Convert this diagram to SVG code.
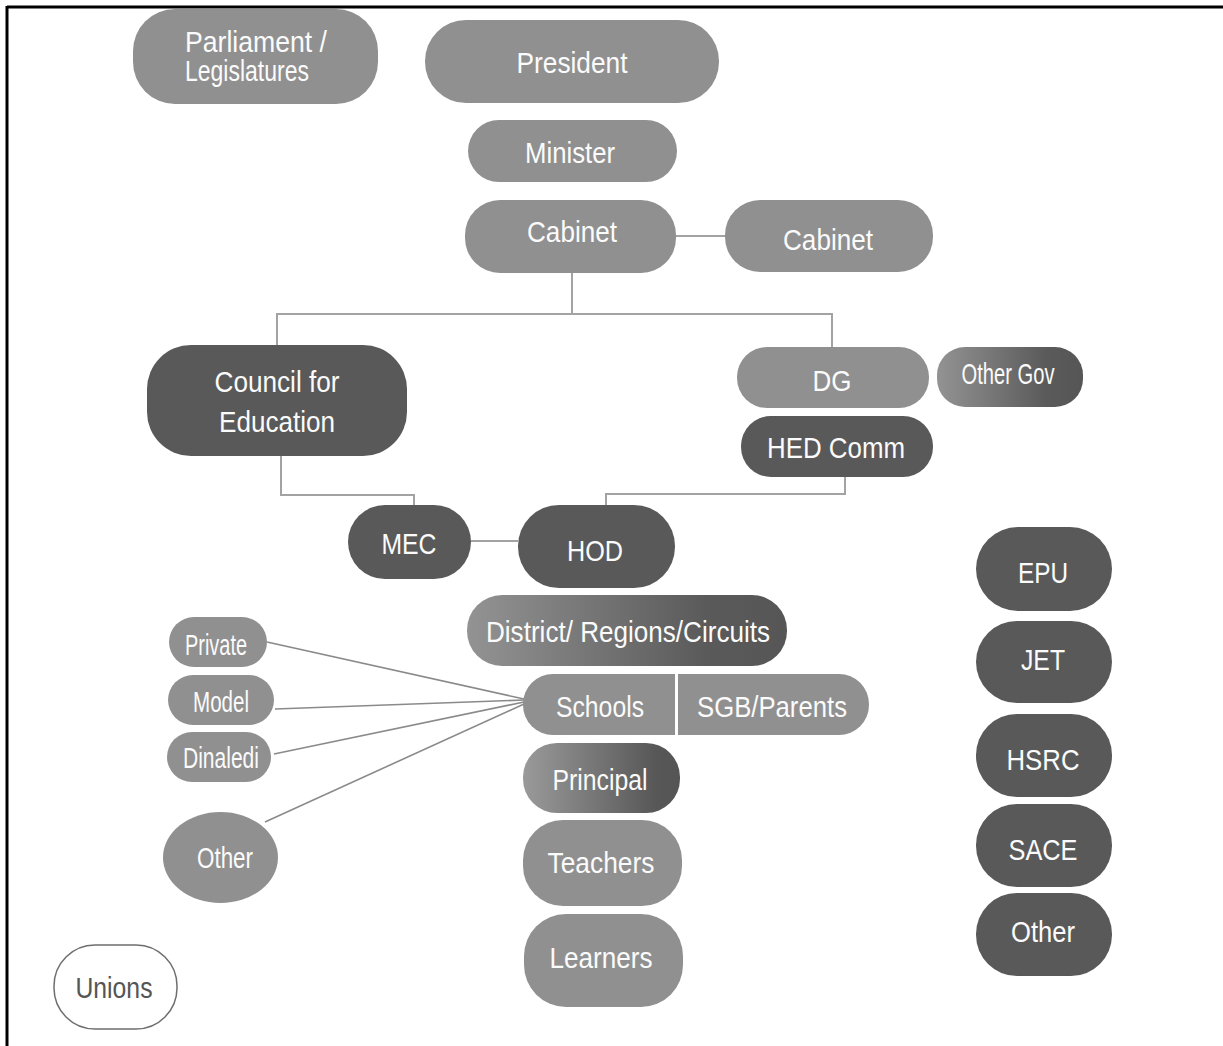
<svg xmlns="http://www.w3.org/2000/svg" width="1223" height="1046" viewBox="0 0 1223 1046">
<defs>
<linearGradient id="gDark" x1="0" y1="0" x2="1" y2="0">
<stop offset="0" stop-color="#939393"/>
<stop offset="0.75" stop-color="#5a5a5a"/>
<stop offset="1" stop-color="#565656"/>
</linearGradient>
<linearGradient id="gPrin" x1="0" y1="0" x2="1" y2="0">
<stop offset="0" stop-color="#9a9a9a"/>
<stop offset="0.85" stop-color="#575757"/>
<stop offset="1" stop-color="#555555"/>
</linearGradient>
<style>
.l{fill:#909090}
.d{fill:#595959}
.g{fill:url(#gDark)}
.t{fill:#fbfbfb;font-family:"Liberation Sans",Arial,sans-serif;font-size:30px;text-anchor:middle}
.tl{fill:#fbfbfb;font-family:"Liberation Sans",Arial,sans-serif;font-size:29px}
.c{stroke:#a3a3a3;stroke-width:2;fill:none}
.s{stroke:#8a8a8a;stroke-width:1.6;fill:none}
</style>
</defs>
<rect width="1223" height="1046" fill="#ffffff"/>
<g id="frame">
<line x1="7" y1="7" x2="1223" y2="7" stroke="#000" stroke-width="3"/>
<line x1="7" y1="6" x2="7" y2="1046" stroke="#000" stroke-width="3"/>
</g>
<g id="connectors">
<line class="c" x1="676" y1="236" x2="725" y2="236"/>
<polyline class="c" points="572,273 572,314"/>
<polyline class="c" points="277,347 277,314 832,314 832,348"/>
<polyline class="c" points="281,456 281,495 414,495 414,505"/>
<polyline class="c" points="845,477 845,494 606,494 606,505"/>
<line class="c" x1="471" y1="541" x2="518" y2="541"/>
<line class="s" x1="267" y1="642" x2="524" y2="699"/>
<line class="s" x1="275" y1="709" x2="524" y2="700"/>
<line class="s" x1="274" y1="754" x2="524" y2="702"/>
<line class="s" x1="265" y1="822" x2="524" y2="704"/>
</g>
<g id="parliament">
<rect class="l" x="133" y="9" width="245" height="95" rx="42"/>
<text class="tl" x="185" y="52" textLength="142" lengthAdjust="spacingAndGlyphs">Parliament /</text>
<text class="tl" x="185" y="81" font-size="27" textLength="124" lengthAdjust="spacingAndGlyphs">Legislatures</text>
</g>
<g id="president">
<rect class="l" x="425" y="20" width="294" height="83" rx="41"/>
<text class="t" x="572" y="73" font-size="31" textLength="111" lengthAdjust="spacingAndGlyphs">President</text>
</g>
<g id="minister">
<rect class="l" x="468" y="120" width="209" height="62" rx="31"/>
<text class="t" x="570" y="163" font-size="31" textLength="90" lengthAdjust="spacingAndGlyphs">Minister</text>
</g>
<g id="cabinet1">
<rect class="l" x="465" y="200" width="211" height="73" rx="35"/>
<text class="t" x="572" y="242" font-size="31" textLength="90" lengthAdjust="spacingAndGlyphs">Cabinet</text>
</g>
<g id="cabinet2">
<rect class="l" x="725" y="200" width="208" height="72" rx="35"/>
<text class="t" x="828" y="250" font-size="31" textLength="90" lengthAdjust="spacingAndGlyphs">Cabinet</text>
</g>
<g id="council">
<rect class="d" x="147" y="345" width="260" height="111" rx="44"/>
<text class="t" x="277" y="392" font-size="31" textLength="125" lengthAdjust="spacingAndGlyphs">Council for</text>
<text class="t" x="277" y="432" font-size="31" textLength="116" lengthAdjust="spacingAndGlyphs">Education</text>
</g>
<g id="dg">
<rect class="l" x="737" y="347" width="192" height="61" rx="30"/>
<text class="t" x="832" y="391" font-size="27" textLength="39" lengthAdjust="spacingAndGlyphs">DG</text>
</g>
<g id="othergov">
<rect class="g" x="937" y="347" width="146" height="60" rx="28"/>
<text class="t" x="1008" y="384" font-size="24" textLength="93" lengthAdjust="spacingAndGlyphs">Other Gov</text>
</g>
<g id="hedcomm">
<rect class="d" x="741" y="416" width="192" height="61" rx="30"/>
<text class="t" x="836" y="458" font-size="29" textLength="138" lengthAdjust="spacingAndGlyphs">HED Comm</text>
</g>
<g id="mec">
<rect class="d" x="348" y="505" width="123" height="74" rx="37"/>
<text class="t" x="409" y="554" font-size="31" textLength="55" lengthAdjust="spacingAndGlyphs">MEC</text>
</g>
<g id="hod">
<rect class="d" x="518" y="505" width="157" height="83" rx="41"/>
<text class="t" x="595" y="561" font-size="31" textLength="56" lengthAdjust="spacingAndGlyphs">HOD</text>
</g>
<g id="district">
<rect class="g" x="467" y="595" width="320" height="71" rx="35"/>
<text class="t" x="628" y="642" font-size="31" textLength="284" lengthAdjust="spacingAndGlyphs">District/ Regions/Circuits</text>
</g>
<g id="schools">
<rect class="l" x="523" y="674" width="346" height="61" rx="30"/>
<line x1="676.5" y1="674" x2="676.5" y2="735" stroke="#ffffff" stroke-width="3"/>
<text class="t" x="600" y="717" font-size="31" textLength="88" lengthAdjust="spacingAndGlyphs">Schools</text>
<text class="t" x="772" y="717" font-size="31" textLength="150" lengthAdjust="spacingAndGlyphs">SGB/Parents</text>
</g>
<g id="principal">
<rect x="523" y="743" width="157" height="70" rx="34" fill="url(#gPrin)"/>
<text class="t" x="600" y="790" font-size="31" textLength="95" lengthAdjust="spacingAndGlyphs">Principal</text>
</g>
<g id="teachers">
<rect class="l" x="523" y="820" width="159" height="86" rx="40"/>
<text class="t" x="601" y="873" font-size="31" textLength="107" lengthAdjust="spacingAndGlyphs">Teachers</text>
</g>
<g id="learners">
<rect class="l" x="524" y="914" width="159" height="93" rx="42"/>
<text class="t" x="601" y="968" font-size="31" textLength="103" lengthAdjust="spacingAndGlyphs">Learners</text>
</g>
<g id="private">
<rect class="l" x="169" y="617" width="98" height="50" rx="25"/>
<text class="t" x="216" y="655" font-size="25" textLength="62" lengthAdjust="spacingAndGlyphs">Private</text>
</g>
<g id="model">
<rect class="l" x="168" y="675" width="106" height="50" rx="25"/>
<text class="t" x="221" y="712" font-size="25" textLength="56" lengthAdjust="spacingAndGlyphs">Model</text>
</g>
<g id="dinaledi">
<rect class="l" x="167" y="732" width="104" height="50" rx="25"/>
<text class="t" x="221" y="768" font-size="25" textLength="76" lengthAdjust="spacingAndGlyphs">Dinaledi</text>
</g>
<g id="other-school">
<ellipse class="l" cx="220.5" cy="857.5" rx="57.5" ry="45.5"/>
<text class="t" x="225" y="868" font-size="30" textLength="56" lengthAdjust="spacingAndGlyphs">Other</text>
</g>
<g id="epu">
<rect class="d" x="976" y="527" width="136" height="84" rx="42"/>
<text class="t" x="1043" y="583" font-size="31" textLength="50" lengthAdjust="spacingAndGlyphs">EPU</text>
</g>
<g id="jet">
<rect class="d" x="976" y="621" width="136" height="82" rx="41"/>
<text class="t" x="1043" y="670" font-size="31" textLength="44" lengthAdjust="spacingAndGlyphs">JET</text>
</g>
<g id="hsrc">
<rect class="d" x="976" y="714" width="136" height="83" rx="41"/>
<text class="t" x="1043" y="770" font-size="31" textLength="73" lengthAdjust="spacingAndGlyphs">HSRC</text>
</g>
<g id="sace">
<rect class="d" x="976" y="804" width="136" height="83" rx="41"/>
<text class="t" x="1043" y="860" font-size="31" textLength="69" lengthAdjust="spacingAndGlyphs">SACE</text>
</g>
<g id="other-body">
<rect class="d" x="976" y="893" width="136" height="83" rx="41"/>
<text class="t" x="1043" y="942" font-size="31" textLength="64" lengthAdjust="spacingAndGlyphs">Other</text>
</g>
<g id="unions">
<rect x="54" y="945" width="123" height="84" rx="41" fill="#ffffff" stroke="#6e6e6e" stroke-width="1.5"/>
<text x="114" y="998" font-family="Liberation Sans, Arial, sans-serif" font-size="30" fill="#555555" text-anchor="middle" textLength="77" lengthAdjust="spacingAndGlyphs">Unions</text>
</g>
</svg>
